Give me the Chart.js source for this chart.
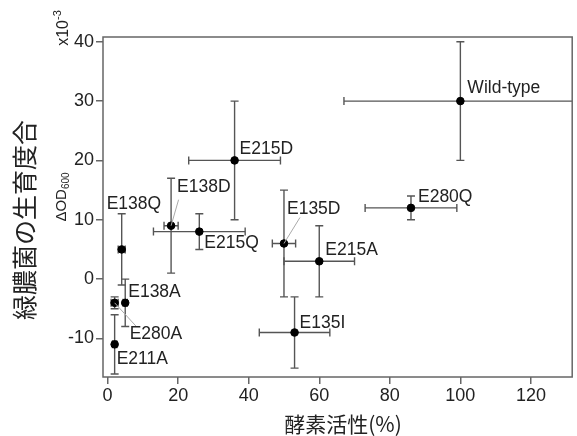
<!DOCTYPE html>
<html><head><meta charset="utf-8">
<script src="https://cdn.jsdelivr.net/npm/chart.js@4"></script>
<style>html,body{margin:0;padding:0;background:#fff}</style>
</head><body>
<canvas id="c" width="577" height="436"></canvas>
<script>
// ---- data ----
const mutants     = ['Wild-type','E280Q','E215D','E215Q','E138D','E138Q','E135D','E215A','E135I','E138A','E280A','E211A'];
const activity    = [100, 86, 36, 26, 18, 4, 50, 60, 53, 5, 2, 2];
const activityErr = [33, 13, 13, 13, 2, 1, 3.3, 10, 10, 0.6, 1, 0.6];
const growth      = [30, 12, 20, 8, 9, 5, 6, 3, -9, -4, -4, -11];
const growthErr   = [10, 2, 10, 3, 8, 6, 9, 6, 6, 4, 1, 5];
const xTicks = [0, 20, 40, 60, 80, 100, 120];
const yTicks = [-10, 0, 10, 20, 30, 40];

// ---- label placement (pixel offsets from the point: text-left, text-middle; optional leader end) ----
const labelOffsets = {
  'Wild-type': {dx: 7, dy: -13},
  'E280Q': {dx: 7, dy: -11},
  'E215D': {dx: 5, dy: -11},
  'E215Q': {dx: 5, dy: 12},
  'E138D': {dx: 6, dy: -39, lx: 7.5, ly: -26},
  'E138Q': {dx: -15, dy: -45},
  'E135D': {dx: 3, dy: -34, lx: 16, ly: -26},
  'E215A': {dx: 6, dy: -11},
  'E135I': {dx: 5, dy: -9},
  'E138A': {dx: 3, dy: -11},
  'E280A': {dx: 15, dy: 31, lx: 22, ly: 24},
  'E211A': {dx: 2, dy: 15}
};

const AX = '#666';
const BAR = '#555';
const TXT = '#222';
const SANS = '"Liberation Sans", Arial, sans-serif';
const CJK = '"Noto Sans CJK JP", "Noto Sans CJK SC", sans-serif';

const deco = {
  id: 'deco',
  beforeDatasetsDraw(chart) {
    const {ctx, chartArea: a, scales: {x, y}} = chart;
    ctx.save();
    ctx.beginPath();
    ctx.rect(a.left, a.top, a.right - a.left, a.bottom - a.top);
    ctx.clip();
    ctx.strokeStyle = BAR;
    ctx.lineWidth = 1.4;
    const cap = 4;
    for (let i = 0; i < mutants.length; i++) {
      const px = x.getPixelForValue(activity[i]);
      const py = y.getPixelForValue(growth[i]);
      const x1 = x.getPixelForValue(activity[i] - activityErr[i]);
      const x2 = x.getPixelForValue(activity[i] + activityErr[i]);
      const y1 = y.getPixelForValue(growth[i] + growthErr[i]);
      const y2 = y.getPixelForValue(growth[i] - growthErr[i]);
      ctx.beginPath();
      ctx.moveTo(x1, py); ctx.lineTo(x2, py);
      ctx.moveTo(x1, py - cap); ctx.lineTo(x1, py + cap);
      ctx.moveTo(x2, py - cap); ctx.lineTo(x2, py + cap);
      ctx.moveTo(px, y1); ctx.lineTo(px, y2);
      ctx.moveTo(px - cap, y1); ctx.lineTo(px + cap, y1);
      ctx.moveTo(px - cap, y2); ctx.lineTo(px + cap, y2);
      ctx.stroke();
    }
    ctx.restore();
  },
  afterDatasetsDraw(chart) {
    const {ctx, scales: {x, y}} = chart;
    ctx.save();
    ctx.font = '17.5px ' + SANS;
    ctx.textBaseline = 'middle';
    ctx.textAlign = 'left';
    for (let i = 0; i < mutants.length; i++) {
      const px = x.getPixelForValue(activity[i]);
      const py = y.getPixelForValue(growth[i]);
      const o = labelOffsets[mutants[i]];
      if (o.lx !== undefined) {
        ctx.strokeStyle = '#aaa';
        ctx.lineWidth = 1;
        ctx.beginPath();
        ctx.moveTo(px, py);
        ctx.lineTo(px + o.lx, py + o.ly);
        ctx.stroke();
      }
      ctx.fillStyle = TXT;
      ctx.fillText(mutants[i], px + o.dx, py + o.dy);
    }
    ctx.restore();
  },
  afterDraw(chart) {
    const {ctx, chartArea: a} = chart;
    ctx.save();
    // frame
    ctx.strokeStyle = AX;
    ctx.lineWidth = 1.5;
    ctx.strokeRect(a.left, a.top, a.right - a.left, a.bottom - a.top);
    // x title
    ctx.fillStyle = TXT;
    ctx.textAlign = 'center';
    ctx.textBaseline = 'middle';
    ctx.font = '21px ' + CJK;
    ctx.fillText('酵素活性(%)', 343, 424);
    // y title (rotated)
    ctx.save();
    ctx.translate(24, 220);
    ctx.rotate(-Math.PI / 2);
    ctx.font = '25px ' + CJK;
    ctx.fillText('緑膿菌の生育度合', 0, 0);
    ctx.restore();
    // ΔOD600
    ctx.save();
    ctx.translate(62, 197);
    ctx.rotate(-Math.PI / 2);
    ctx.textAlign = 'left';
    ctx.font = '15px ' + SANS;
    const w1 = ctx.measureText('ΔOD').width;
    ctx.font = '10px ' + SANS;
    const w2 = ctx.measureText('600').width;
    const start = -(w1 + w2) / 2;
    ctx.font = '15px ' + SANS;
    ctx.fillText('ΔOD', start, 0);
    ctx.font = '10px ' + SANS;
    ctx.fillText('600', start + w1, 4);
    ctx.restore();
    // x10^-3
    ctx.save();
    ctx.translate(64, 28);
    ctx.rotate(-Math.PI / 2);
    ctx.textAlign = 'left';
    ctx.font = '16px ' + SANS;
    const m1 = ctx.measureText('x10').width;
    ctx.font = '11px ' + SANS;
    const m2 = ctx.measureText('-3').width;
    const s2 = -(m1 + m2) / 2;
    ctx.font = '16px ' + SANS;
    ctx.fillText('x10', s2, 0);
    ctx.font = '11px ' + SANS;
    ctx.fillText('-3', s2 + m1, -6);
    ctx.restore();
    ctx.restore();
  }
};

new Chart(document.getElementById('c'), {
  type: 'scatter',
  data: {
    datasets: [{
      data: activity.map((v, i) => ({x: v, y: growth[i]})),
      backgroundColor: '#000',
      borderColor: '#000',
      pointRadius: 3.8,
      pointHoverRadius: 3.8
    }]
  },
  options: {
    responsive: false,
    animation: false,
    devicePixelRatio: 1,
    layout: {padding: {top: 37, right: 1, left: 0, bottom: 0}},
    plugins: {legend: {display: false}, tooltip: {enabled: false}},
    scales: {
      x: {
        type: 'linear', min: -1.3, max: 131.7,
        afterBuildTicks: s => { s.ticks = xTicks.map(v => ({value: v})); },
        afterFit: s => { s.height = 59; },
        border: {display: false},
        grid: {drawOnChartArea: false, drawTicks: true, tickLength: 7, color: AX, lineWidth: 1.5},
        ticks: {color: TXT, font: {family: SANS, size: 18}, padding: 1, maxRotation: 0, autoSkip: false}
      },
      y: {
        type: 'linear', min: -16.5, max: 40.8,
        afterBuildTicks: s => { s.ticks = yTicks.map(v => ({value: v})); },
        afterFit: s => { s.width = 103; },
        border: {display: false},
        grid: {drawOnChartArea: false, drawTicks: true, tickLength: 7, color: AX, lineWidth: 1.5},
        ticks: {color: TXT, font: {family: SANS, size: 18}, padding: 2, autoSkip: false}
      }
    }
  },
  plugins: [deco]
});
</script>
</body></html>
